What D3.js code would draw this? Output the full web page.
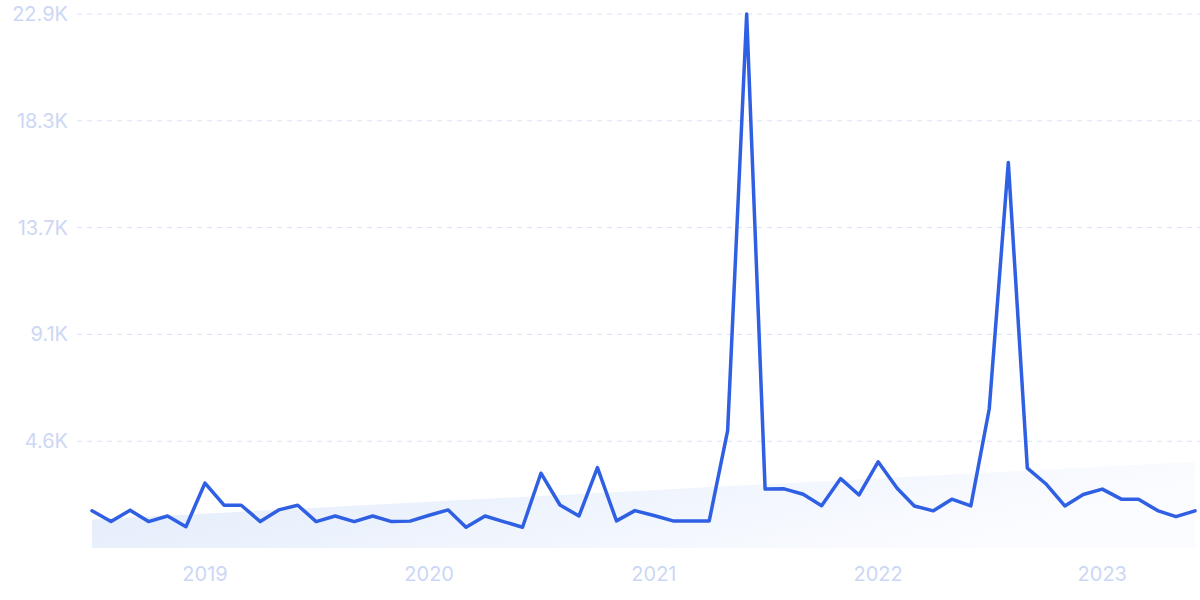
<!DOCTYPE html>
<html>
<head>
<meta charset="utf-8">
<script src="https://cdn.jsdelivr.net/npm/d3@7"></script>
<style>
  html, body { margin: 0; padding: 0; background: #ffffff; }
  svg { display: block; }
</style>
</head>
<body>
<svg id="chart" width="1200" height="600"></svg>
<script>
// ---- data ----
const startMonth = [2018, 6]; // July 2018 (month index 6)
const values = [
  1590, 1130, 1620, 1130, 1370, 910, 2780, 1830, 1830, 1130,
  1630, 1830, 1130, 1370, 1130, 1370, 1130, 1150, 1400, 1630,
  890, 1370, 1130, 890, 3200, 1840, 1370, 3440, 1160, 1600,
  1390, 1160, 1160, 1160, 5020, 22850, 2520, 2530, 2300, 1810,
  2970, 2270, 3690, 2560, 1800, 1590, 2090, 1800, 5960, 16500,
  3420, 2750, 1800, 2290, 2520, 2090, 2090, 1600, 1340, 1590
];
const trendValues = [1220, 3690]; // trend start / end
const yTickValues = [4570, 9140, 13710, 18280, 22850];
const yTickLabels = ["4.6K", "9.1K", "13.7K", "18.3K", "22.9K"];
const xTickYears = [2019, 2020, 2021, 2022, 2023];

// ---- build ----
const dates = values.map((v, i) => new Date(startMonth[0], startMonth[1] + i, 1));
const data = values.map((v, i) => ({ date: dates[i], value: v }));

const svg = d3.select("#chart");
const x = d3.scaleTime()
  .domain([dates[0], dates[dates.length - 1]])
  .range([92, 1195]);
const y = d3.scaleLinear()
  .domain([0, 22850])
  .range([548, 14]);

// gradient for trend area
const defs = svg.append("defs");
const grad = defs.append("linearGradient")
  .attr("id", "trendGrad")
  .attr("x1", "0%").attr("y1", "0%")
  .attr("x2", "100%").attr("y2", "30%");
grad.append("stop").attr("offset", "0%").attr("stop-color", "#e1ebfb");
grad.append("stop").attr("offset", "100%").attr("stop-color", "#fbfcff");

// grid lines
const grid = svg.append("g");
grid.selectAll("line")
  .data(yTickValues)
  .join("line")
  .attr("x1", 77).attr("x2", 1200)
  .attr("y1", d => y(d)).attr("y2", d => y(d))
  .attr("stroke", "#d9e1f8")
  .attr("stroke-width", 1)
  .attr("stroke-dasharray", "5,5");

// y labels
svg.append("g").selectAll("text")
  .data(yTickValues)
  .join("text")
  .attr("x", 68)
  .attr("y", d => y(d))
  .attr("dy", "0.35em")
  .attr("text-anchor", "end")
  .attr("font-family", "Inter, 'Open Sans', sans-serif")
  .attr("font-size", 20)
  .attr("fill", "#ccd7f5")
  .text((d, i) => yTickLabels[i]);

// trend area
const trendData = [
  { date: dates[0], value: trendValues[0] },
  { date: dates[dates.length - 1], value: trendValues[1] }
];
svg.append("path")
  .datum(trendData)
  .attr("d", d3.area().x(d => x(d.date)).y0(y(0)).y1(d => y(d.value)))
  .attr("fill", "url(#trendGrad)");

// x axis labels
svg.append("g").selectAll("text")
  .data(xTickYears)
  .join("text")
  .attr("x", d => x(new Date(d, 0, 1)))
  .attr("y", 574)
  .attr("dy", "0.35em")
  .attr("text-anchor", "middle")
  .attr("font-family", "Inter, 'Open Sans', sans-serif")
  .attr("font-size", 20)
  .attr("fill", "#ccd7f5")
  .text(d => d);

// line
svg.append("path")
  .datum(data)
  .attr("d", d3.line().x(d => x(d.date)).y(d => y(d.value)))
  .attr("fill", "none")
  .attr("stroke", "#2f5fe3")
  .attr("stroke-width", 3.5)
  .attr("stroke-linejoin", "round")
  .attr("stroke-linecap", "round");
</script>
</body>
</html>
